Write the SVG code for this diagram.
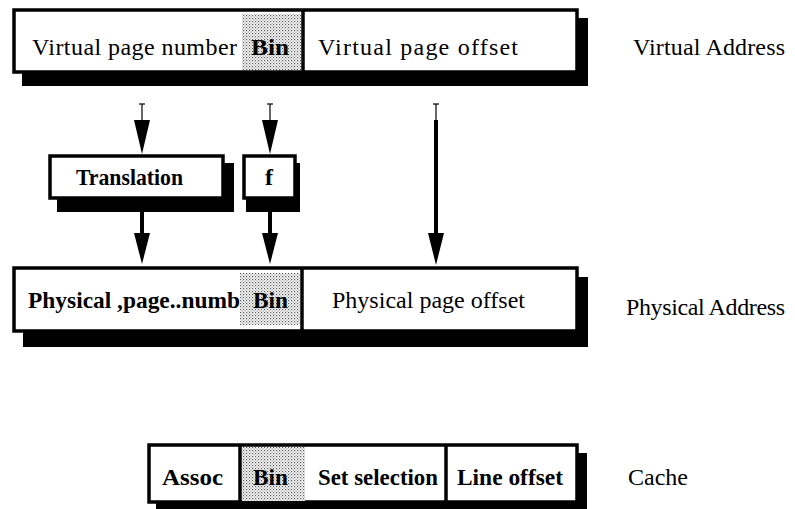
<svg xmlns="http://www.w3.org/2000/svg" width="795" height="509" viewBox="0 0 795 509">
<style>
.box{fill:#fff;stroke:#000;stroke-width:3.5}
.sh{fill:#000}
.div{stroke:#000;stroke-width:3.5}
.t{font-family:"Liberation Serif","Times New Roman",serif;font-size:24px;fill:#000}
.b{font-weight:bold}
.bin{fill:url(#dots)}
.tick{stroke:#000;stroke-width:1.2}
.ln{stroke:#000;stroke-width:4}
.ah{fill:#000}
</style>
<defs>
<pattern id="dots" width="3" height="3" patternUnits="userSpaceOnUse">
<rect width="3" height="3" fill="#fff"/>
<rect x="0" y="0" width="1.2" height="1.2" fill="#555"/>
<rect x="1.5" y="1.5" width="1.2" height="1.2" fill="#888"/>
</pattern>
</defs>

<g id="virtual-address">
<rect class="sh" x="22" y="18" width="566" height="68"/>
<rect class="box" x="14" y="10" width="563" height="62"/>
<rect class="bin" x="242" y="14" width="59" height="56"/>
<line class="div" x1="303" y1="10" x2="303" y2="72"/>
<text class="t" x="32" y="55" textLength="205" lengthAdjust="spacing">Virtual page number</text>
<text class="t b" x="251" y="55" font-size="23" textLength="38" lengthAdjust="spacingAndGlyphs">Bin</text>
<text class="t" x="318" y="55" textLength="200" lengthAdjust="spacing">Virtual page offset</text>
</g>
<text class="t" x="633" y="55" textLength="152" lengthAdjust="spacing">Virtual Address</text>

<g id="translation">
<rect class="sh" x="57" y="163" width="177" height="49"/>
<rect class="box" x="50" y="156" width="173" height="42"/>
<text class="t b" x="76" y="185" font-size="22" textLength="107" lengthAdjust="spacingAndGlyphs">Translation</text>
</g>

<g id="f">
<rect class="sh" x="246" y="163" width="54" height="49"/>
<rect class="box" x="244" y="156" width="51" height="42"/>
<text class="t b" x="265" y="185" font-size="22">f</text>
</g>

<g id="physical-address">
<rect class="sh" x="23" y="277" width="565" height="70"/>
<rect class="box" x="14" y="268" width="563" height="63"/>
<rect class="bin" x="240" y="273" width="60" height="52"/>
<line class="div" x1="302" y1="268" x2="302" y2="331"/>
<text class="t b" x="28" y="308" font-size="23" textLength="212" lengthAdjust="spacingAndGlyphs">Physical ,page..numb</text>
<text class="t b" x="253" y="308" font-size="23" textLength="35" lengthAdjust="spacingAndGlyphs">Bin</text>
<text class="t" x="332" y="308" textLength="193" lengthAdjust="spacing">Physical page offset</text>
</g>
<text class="t" x="626" y="315" textLength="159" lengthAdjust="spacing">Physical Address</text>

<g id="cache">
<rect class="sh" x="156" y="453" width="431" height="60"/>
<rect class="box" x="149" y="445" width="428" height="57"/>
<rect class="bin" x="242" y="447" width="63" height="54"/>
<line class="div" x1="240" y1="445" x2="240" y2="502"/>
<line class="div" x1="446" y1="445" x2="446" y2="502"/>
<text class="t b" x="162" y="485" font-size="22" textLength="61" lengthAdjust="spacingAndGlyphs">Assoc</text>
<text class="t b" x="253" y="485" font-size="23" textLength="35" lengthAdjust="spacingAndGlyphs">Bin</text>
<text class="t b" x="318" y="485" font-size="22" textLength="120" lengthAdjust="spacingAndGlyphs">Set selection</text>
<text class="t b" x="457" y="485" font-size="22" textLength="106" lengthAdjust="spacingAndGlyphs">Line offset</text>
</g>
<text class="t" x="628" y="485" textLength="60" lengthAdjust="spacing">Cache</text>

<g id="connectors">
<line class="tick" x1="142" y1="104" x2="142" y2="121"/>
<line class="tick" x1="139" y1="104" x2="145" y2="104"/>
<polygon class="ah" points="134,120 150,120 142,154"/>
<line class="tick" x1="270" y1="104" x2="270" y2="121"/>
<line class="tick" x1="267" y1="104" x2="273" y2="104"/>
<polygon class="ah" points="262,120 278,120 270,154"/>
<line class="tick" x1="436" y1="104" x2="436" y2="121"/>
<line class="tick" x1="433" y1="104" x2="439" y2="104"/>
<line class="ln" x1="436" y1="120" x2="436" y2="234"/>
<polygon class="ah" points="428,233 444,233 436,265"/>
<line class="ln" x1="142" y1="212" x2="142" y2="234"/>
<polygon class="ah" points="134,233 150,233 142,264"/>
<line class="ln" x1="270" y1="212" x2="270" y2="234"/>
<polygon class="ah" points="262,233 278,233 270,264"/>
</g>
</svg>
